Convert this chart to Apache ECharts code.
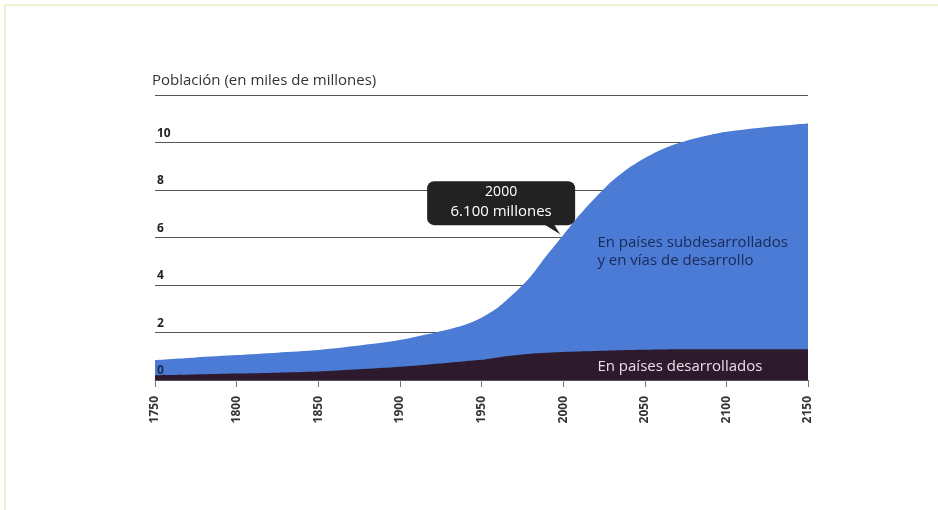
<!DOCTYPE html>
<html><head><meta charset="utf-8">
<script src="https://cdn.jsdelivr.net/npm/echarts@6/dist/echarts.min.js"></script>
<style>html,body{margin:0;padding:0;background:#fff}#c{width:938px;height:510px}</style>
</head><body><div id="c"></div>
<script>
// ---- data ----
const years        = [1750,1775,1800,1825,1850,1875,1900,1925,1940,1950,1960,1970,1980,1990,2000,2010,2020,2030,2040,2050,2060,2070,2080,2090,2100,2125,2150];
const totalPop     = [0.84,0.95,1.05,1.15,1.26,1.45,1.68,2.05,2.33,2.62,3.05,3.65,4.35,5.25,6.10,6.95,7.70,8.38,8.92,9.35,9.70,9.96,10.16,10.32,10.45,10.65,10.80];
const developedPop = [0.20,0.23,0.27,0.31,0.36,0.45,0.56,0.70,0.79,0.85,0.95,1.04,1.11,1.15,1.18,1.20,1.22,1.24,1.26,1.27,1.28,1.29,1.29,1.30,1.30,1.30,1.30];
const xTickLabels  = [1750,1800,1850,1900,1950,2000,2050,2100,2150];
const yTickLabels  = [0,2,4,6,8,10];
const titleText    = 'Población (en miles de millones)';
const calloutYear  = 2000;
const calloutValue = 6.1;
const calloutLines = ['2000', '6.100 millones'];
const labelDeveloping = ['En países subdesarrollados', 'y en vías de desarrollo'];
const labelDeveloped  = 'En países desarrollados';

const FONT = '"Open Sans", Lato, "DejaVu Sans", sans-serif';
const chart = echarts.init(document.getElementById('c'));

const yBase = {type: 'value', min: 0, max: 12, interval: 2, axisLine: {show: false}, axisTick: {show: false}};

const option = {
  animation: false,
  backgroundColor: '#fff',
  title: {
    text: titleText, left: 147, top: 68,
    textStyle: {fontSize: 15, fontWeight: 'normal', color: '#333', fontFamily: FONT}
  },
  grid: {left: 155, right: 130, top: 95, bottom: 130},
  xAxis: {
    type: 'value', min: xTickLabels[0], max: xTickLabels[xTickLabels.length-1], interval: 50,
    axisLine: {show: true, lineStyle: {color: '#555', width: 1}},
    axisTick: {show: true, length: 7, lineStyle: {color: '#777'}},
    axisLabel: {rotate: 90, fontWeight: 'bold', fontSize: 12, color: '#333', margin: 16, fontFamily: FONT,
                formatter: v => String(v)},
    splitLine: {show: false}
  },
  yAxis: [
    Object.assign({}, yBase, {
      z: 0,
      axisLabel: {show: false},
      splitLine: {lineStyle: {color: '#555', width: 1.2}}
    }),
    Object.assign({}, yBase, {
      position: 'left', z: 20,
      splitLine: {show: false},
      axisLabel: {
        inside: true, align: 'left', verticalAlign: 'bottom', margin: 2, padding: [0,0,3,0],
        fontWeight: 'bold', fontSize: 12, fontFamily: FONT,
        formatter: v => yTickLabels.indexOf(Number(v)) >= 0 ? String(v) : '',
        color: v => (Number(v) === 0 ? '#1b2a55' : '#222')
      }
    })
  ],
  series: [
    {
      type: 'line', name: 'total', z: 2, yAxisIndex: 0,
      data: years.map((y, i) => [y, totalPop[i]]),
      smooth: 0.25, symbol: 'none', lineStyle: {width: 0},
      areaStyle: {color: '#4b7bd5', opacity: 1}
    },
    {
      type: 'line', name: 'developed', z: 3, yAxisIndex: 0,
      data: years.map((y, i) => [y, developedPop[i]]),
      smooth: 0.25, symbol: 'none', lineStyle: {width: 0},
      areaStyle: {color: '#2d1a2c', opacity: 1}
    }
  ]
};
chart.setOption(option);

const p = chart.convertToPixel({gridIndex: 0}, [calloutYear, calloutValue]);
const t1 = chart.convertToPixel({gridIndex: 0}, [2021, 6.15]);
const t2 = chart.convertToPixel({gridIndex: 0}, [2021, 0.55]);

chart.setOption({
  graphic: [
    {type: 'rect', silent: true, z: 0, shape: {x: 5, y: 5, width: 1000, height: 1000},
     style: {fill: 'none', stroke: '#e5e2a8', lineWidth: 1}},
    {type: 'polygon', z: 10, shape: {points: [[p[0]-24, p[1]-14], [p[0]-11, p[1]-14], [p[0]-3, p[1]-1]]},
     style: {fill: '#222'}},
    {type: 'rect', z: 10, shape: {x: p[0]-136, y: p[1]-54, width: 148, height: 44, r: 7},
     style: {fill: '#222'}},
    {type: 'text', z: 11, x: p[0]-62, y: p[1]-43,
     style: {text: calloutLines[0], fill: '#fff', font: '14px ' + FONT, align: 'center', verticalAlign: 'middle'}},
    {type: 'text', z: 11, x: p[0]-62, y: p[1]-23,
     style: {text: calloutLines[1], fill: '#fff', font: '15px ' + FONT, align: 'center', verticalAlign: 'middle'}},
    {type: 'text', z: 11, x: t1[0], y: t1[1],
     style: {text: labelDeveloping.join('\n'), fill: '#1b2a55', font: '15px ' + FONT, lineHeight: 18, align: 'left', verticalAlign: 'top'}},
    {type: 'text', z: 11, x: t2[0], y: t2[1],
     style: {text: labelDeveloped, fill: '#eadfe8', font: '15px ' + FONT, align: 'left', verticalAlign: 'middle'}}
  ]
});
</script>
</body></html>
